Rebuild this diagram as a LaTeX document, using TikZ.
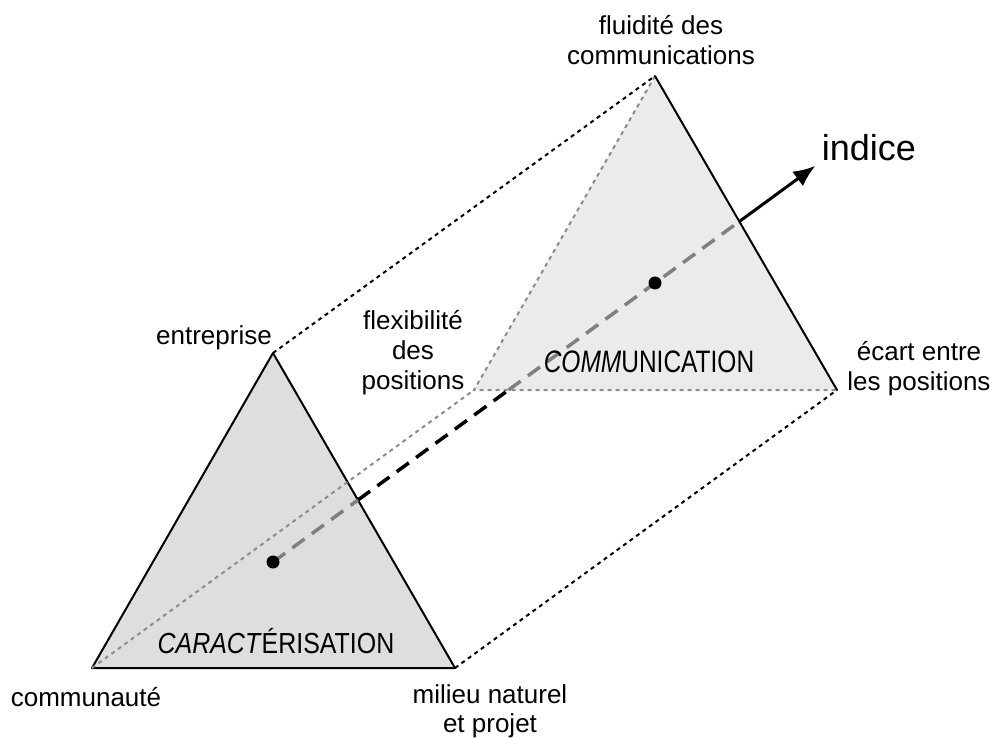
\documentclass[tikz,border=0pt]{standalone}
\usepackage{fontspec}
\setmainfont{Liberation Sans}
\usetikzlibrary{arrows.meta,calc}
\begin{document}
\begin{tikzpicture}[x=1pt,y=-1pt,
  lbl/.style={font=\fontsize{26}{30}\selectfont, align=center, inner sep=0pt},
  lblbottom/.style={font=\fontsize{26}{29}\selectfont, align=center, inner sep=0pt},
  bigl/.style={font=\fontsize{36}{40}\selectfont, inner sep=0pt},
  facelbl/.style={inner sep=0pt},
  solidedge/.style={line width=2pt, line join=round, line cap=round},
  hiddenedge/.style={line width=2pt, draw=black!45, dash pattern=on 4pt off 4pt},
  linkdot/.style={line width=2pt, dash pattern=on 4pt off 4pt},
  axisfront/.style={line width=3.5pt, draw=black, dash pattern=on 15pt off 9pt},
  axisback/.style={line width=3.5pt, draw=black!50, dash pattern=on 15pt off 9pt},
  arrowline/.style={line width=3pt, -{Latex[length=22pt,width=18pt]}},
  dotpt/.style={circle, fill=black, inner sep=0pt, minimum size=13pt}
]
\useasboundingbox (0,0) rectangle (997,738);
% vertices
\coordinate (FT) at (273,353);
\coordinate (FL) at (92,668);
\coordinate (FR) at (455,668);
\coordinate (BT) at (655,76);
\coordinate (BL) at (474,390);
\coordinate (BR) at (837,390);
\coordinate (FD) at (273,562);
\coordinate (BD) at (655,283);
\coordinate (X1) at (intersection of FD--BD and FT--FR);
\coordinate (X2) at (intersection of FD--BD and BL--BR);
\coordinate (X3) at (intersection of FD--BD and BT--BR);
\coordinate (AT) at ($(FD)!1.42!(BD)$);

% back triangle
\fill[black!8] (BL) -- (BT) -- (BR) -- cycle;
\draw[hiddenedge] (BT) -- (BL) -- (BR);
\draw[solidedge] (BT) -- (BR);

% links
\draw[linkdot] (FT) -- (BT);
\draw[linkdot] (FR) -- (BR);

% axis
\draw[axisfront] (X1) -- (X2);
\draw[axisback] (X2) -- (X3);
\draw[arrowline] (X3) -- (AT);

% front triangle
\fill[black!13] (FL) -- (FT) -- (FR) -- cycle;
\draw[solidedge] (FL) -- (FT) -- (FR) -- cycle;
\draw[hiddenedge] (FL) -- (BL);
\draw[axisback] (FD) -- (X1);

% points
\node[dotpt] (fdot) at (FD) {};
\node[dotpt] (bdot) at (BD) {};

% face labels
\node[facelbl, anchor=base] (carac) at (276,653) {\scalebox{0.86}[1]{\fontsize{29}{30}\selectfont\textit{CARACT}ÉRISATION}};
\node[facelbl, anchor=base] (comm) at (649,373) {\scalebox{0.79}[1]{\fontsize{31}{32}\selectfont\textit{COMM}UNICATION}};

% vertex labels
\node[lbl] (fluid) at (661,40) {fluidité des\\communications};
\node[bigl] (indice) at (869,148) {indice};
\node[lbl] (entr) at (214,338) {entreprise};
\node[lbl] (flex) at (413,353) {flexibilité\\des\\positions};
\node[lbl] (ecart) at (919,369) {écart entre\\les positions};
\node[lblbottom] (commu) at (86,697) {communauté};
\node[lblbottom] (milieu) at (490,711) {milieu naturel\\et projet};
\end{tikzpicture}
\end{document}
